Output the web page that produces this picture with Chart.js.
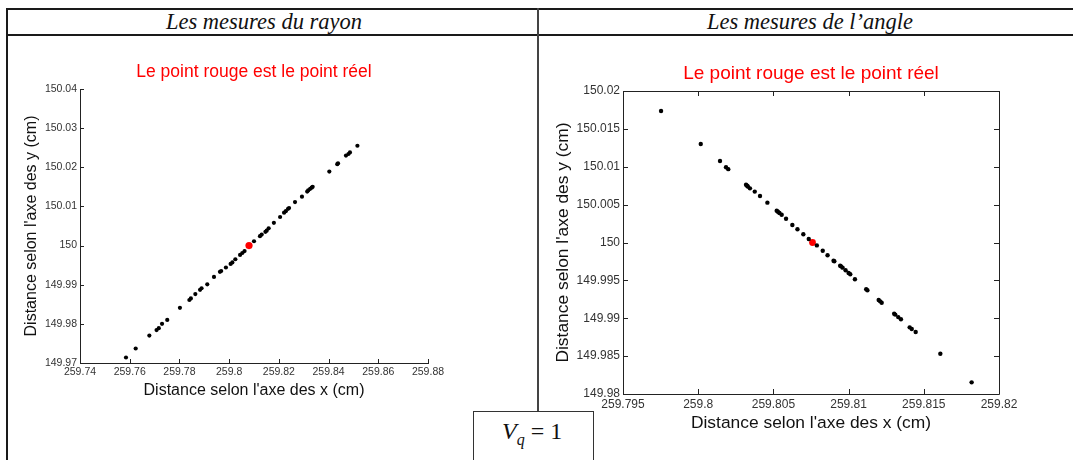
<!DOCTYPE html>
<html>
<head>
<meta charset="utf-8">
<script src="https://cdn.jsdelivr.net/npm/chart.js@4.4.1/dist/chart.umd.min.js"></script>
<style>
body{margin:0;width:1073px;height:460px;background:#fff;position:relative;overflow:hidden;font-family:"Liberation Sans",Arial,sans-serif}
.ln{position:absolute;background:#1a1a1a}
.hd{position:absolute;top:9px;height:26px;line-height:26px;font-family:"Liberation Serif",serif;font-style:italic;font-size:22.5px;color:#111;text-align:center;white-space:nowrap}
.plot{position:absolute}
.vq{position:absolute;left:473px;top:411px;width:119px;height:60px;border:1px solid #333;font-family:"Liberation Serif",serif;font-size:24px;color:#111}
.vq span{position:absolute;top:6px;left:28px;white-space:nowrap}
</style>
</head>
<body>
<div class="ln" style="left:6px;top:8px;width:1067px;height:2px"></div>
<div class="ln" style="left:6px;top:34px;width:1067px;height:2px"></div>
<div class="ln" style="left:6px;top:8px;width:2px;height:452px"></div>
<div class="ln" style="left:537px;top:8px;width:2px;height:403px;background:#444"></div>
<div class="hd" style="left:114px;width:300px">Les mesures du rayon</div>
<div class="hd" style="left:660px;width:300px">Les mesures de l’angle</div>
<div class="vq"><span><i>V</i><sub style="font-size:16px"><i>q</i></sub> = 1</span></div>

<div class="plot" style="left:10px;top:55px;width:484px;height:345px"><canvas id="rayon"></canvas></div>
<div class="plot" style="left:545px;top:57px;width:524px;height:379px"><canvas id="angle"></canvas></div>

<script>
// mesures du rayon (gauche)
const rayonX = [259.7585, 259.7624, 259.7679, 259.7708, 259.7717, 259.7730, 259.7751, 259.7802, 259.7840, 259.7846,
  259.7864, 259.7883, 259.7889, 259.7912, 259.7939, 259.7963, 259.7968, 259.7987, 259.8006, 259.8013,
  259.8025, 259.8044, 259.8053, 259.8062, 259.8100, 259.8124, 259.8131, 259.8146, 259.8151, 259.8159,
  259.8180, 259.8205, 259.8221, 259.8228, 259.8237, 259.8241, 259.8265, 259.8293, 259.8314, 259.8318,
  259.8326, 259.8332, 259.8336, 259.8403, 259.8435, 259.8438, 259.8470, 259.8480, 259.8486, 259.8516];
const rayonY = [149.9714, 149.9737, 149.9770, 149.9784, 149.9789, 149.9800, 149.9810, 149.9841, 149.9861, 149.9865,
  149.9876, 149.9887, 149.9891, 149.9901, 149.9920, 149.9933, 149.9935, 149.9944, 149.9953, 149.9957,
  149.9965, 149.9976, 149.9981, 149.9986, 150.0011, 150.0024, 150.0028, 150.0035, 150.0038, 150.0044,
  150.0058, 150.0073, 150.0084, 150.0088, 150.0094, 150.0096, 150.0111, 150.0125, 150.0138, 150.0141,
  150.0145, 150.0148, 150.0150, 150.0189, 150.0208, 150.0210, 150.0230, 150.0234, 150.0238, 150.0255];
const rayonReel = [259.808, 150.0];
const rayonTicksX = [259.74, 259.76, 259.78, 259.8, 259.82, 259.84, 259.86, 259.88];
const rayonTicksY = [149.97, 149.98, 149.99, 150, 150.01, 150.02, 150.03, 150.04];

// mesures de l'angle (droite)
const angleX = [259.79753, 259.80017, 259.80145, 259.80185, 259.80200, 259.80318, 259.80325, 259.80330, 259.80344, 259.80376,
  259.80411, 259.80460, 259.80522, 259.80530, 259.80540, 259.80555, 259.80584, 259.80626, 259.80660, 259.80699,
  259.80735, 259.80789, 259.80828, 259.80860, 259.80900, 259.80905, 259.80944, 259.80950, 259.80960, 259.80980,
  259.81000, 259.81011, 259.81042, 259.81117, 259.81125, 259.81200, 259.81210, 259.81220, 259.81303, 259.81310,
  259.81330, 259.81348, 259.81406, 259.81420, 259.81446, 259.81610, 259.81818];
const angleY = [150.01736, 150.01300, 150.01076, 150.00993, 150.00968, 150.00763, 150.00750, 150.00740, 150.00715, 150.00672,
  150.00614, 150.00526, 150.00420, 150.00405, 150.00390, 150.00367, 150.00314, 150.00231, 150.00174, 150.00108,
  150.00046, 149.99962, 149.99892, 149.99831, 149.99760, 149.99752, 149.99694, 149.99685, 149.99668, 149.99633,
  149.99598, 149.99580, 149.99514, 149.99382, 149.99370, 149.99240, 149.99223, 149.99205, 149.99060, 149.99048,
  149.99015, 149.98986, 149.98880, 149.98858, 149.98818, 149.98532, 149.98154];
const angleReel = [259.8076, 150.0];
const angleTicksX = [259.795, 259.8, 259.805, 259.81, 259.815, 259.82];
const angleTicksY = [149.98, 149.985, 149.99, 149.995, 150, 150.005, 150.01, 150.015, 150.02];

const titre = "Le point rouge est le point réel";
const FONT = '"Liberation Sans", Arial, sans-serif';

// petites graduations tournées vers l'intérieur, comme sous Matlab
const inTicks = {
  id: 'inTicks',
  afterDraw(chart, args, opts) {
    const {ctx, chartArea: a, scales: {x, y}} = chart;
    const len = opts.len;
    ctx.save();
    ctx.strokeStyle = '#222';
    ctx.lineWidth = 1;
    ctx.beginPath();
    x.ticks.forEach(t => {
      const px = Math.round(x.getPixelForValue(t.value)) + 0.5;
      ctx.moveTo(px, a.bottom);
      ctx.lineTo(px, a.bottom - len);
      if (opts.box) {
        ctx.moveTo(px, a.top);
        ctx.lineTo(px, a.top + len);
      }
    });
    y.ticks.forEach(t => {
      const py = Math.round(y.getPixelForValue(t.value)) + 0.5;
      ctx.moveTo(a.left, py);
      ctx.lineTo(a.left + len, py);
      if (opts.box) {
        ctx.moveTo(a.right, py);
        ctx.lineTo(a.right - len, py);
      }
    });
    if (opts.box) {
      ctx.rect(Math.round(a.left) + 0.5, Math.round(a.top) + 0.5, Math.round(a.right - a.left), Math.round(a.bottom - a.top));
    }
    ctx.stroke();
    ctx.restore();
  }
};

function pts(xs, ys) {
  return xs.map((v, i) => ({x: v, y: ys[i]}));
}

function makeChart(id, cfg) {
  const axis = (ticks, title, fit, pos) => ({
    type: 'linear',
    position: pos,
    min: ticks[0],
    max: ticks[ticks.length - 1],
    afterBuildTicks: s => { s.ticks = ticks.map(v => ({value: v})); },
    afterFit: fit,
    grid: {display: false, drawTicks: false},
    border: {display: !cfg.box, color: '#222', width: 1},
    ticks: {
      color: '#333',
      font: {family: FONT, size: cfg.tickSize},
      padding: 3,
      maxRotation: 0,
      autoSkip: false,
      callback: v => String(v)
    },
    title: {
      display: true,
      text: title,
      color: '#111',
      font: {family: FONT, size: cfg.labelSize},
      padding: pos === 'left' ? {top: cfg.yTitlePad, bottom: 0} : {top: 0, bottom: cfg.xTitlePad}
    }
  });

  return new Chart(document.getElementById(id), {
    type: 'scatter',
    data: {
      datasets: [
        {
          data: pts(cfg.xs, cfg.ys),
          backgroundColor: '#000',
          borderColor: '#000',
          pointRadius: cfg.dot,
          pointBorderWidth: 0,
          order: cfg.redOnTop ? 2 : 1
        },
        {
          data: [{x: cfg.reel[0], y: cfg.reel[1]}],
          backgroundColor: '#ff0000',
          borderColor: '#ff0000',
          pointRadius: cfg.redDot,
          pointBorderWidth: 0,
          order: cfg.redOnTop ? 1 : 2
        }
      ]
    },
    options: {
      responsive: true,
      maintainAspectRatio: false,
      animation: false,
      layout: {padding: {left: 0, right: cfg.padRight, top: 0, bottom: 0}},
      plugins: {
        legend: {display: false},
        tooltip: {enabled: false},
        title: {
          display: true,
          fullSize: false,
          text: titre,
          color: '#ff0000',
          font: {family: FONT, size: cfg.titleSize, weight: 'normal'},
          padding: {top: cfg.titlePad, bottom: cfg.titlePad}
        },
        inTicks: {len: cfg.tickLen, box: cfg.box}
      },
      scales: {
        x: axis(cfg.ticksX, "Distance selon l'axe des x (cm)", s => { s.height = cfg.xH; }, 'bottom'),
        y: axis(cfg.ticksY, "Distance selon l'axe des y (cm)", s => { s.width = cfg.yW; }, 'left')
      }
    },
    plugins: [inTicks]
  });
}

makeChart('rayon', {
  xs: rayonX, ys: rayonY, reel: rayonReel,
  ticksX: rayonTicksX, ticksY: rayonTicksY,
  tickSize: 10.5, labelSize: 16, titleSize: 17.5, titlePad: 6.5,
  xH: 37, yW: 70, padRight: 66, yTitlePad: 12.4, xTitlePad: 0,
  dot: 2.1, redDot: 3.6, redOnTop: true, tickLen: 4, box: false
});

makeChart('angle', {
  xs: angleX, ys: angleY, reel: angleReel,
  ticksX: angleTicksX, ticksY: angleTicksY,
  tickSize: 12, labelSize: 17.4, titleSize: 19, titlePad: 5.6,
  xH: 42, yW: 78, padRight: 70, yTitlePad: 7.5, xTitlePad: 2.5,
  dot: 2.2, redDot: 3.4, redOnTop: false, tickLen: 5, box: true
});
</script>
</body>
</html>
